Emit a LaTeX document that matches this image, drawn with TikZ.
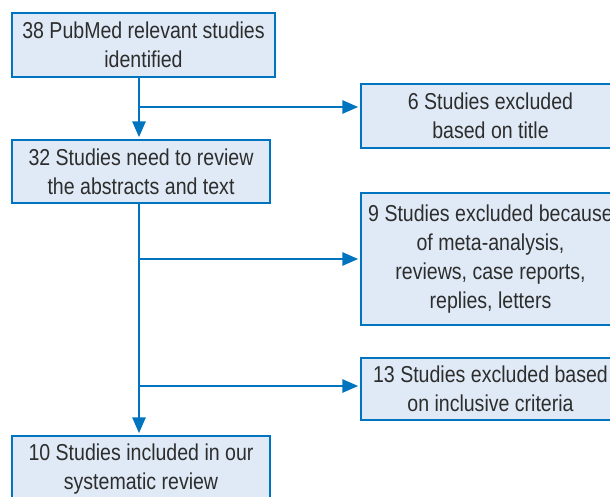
\documentclass[tikz,border=0pt]{standalone}
\usepackage{fontspec}
\setmainfont{Liberation Sans}[FakeStretch=0.85]
\usetikzlibrary{arrows.meta}
\definecolor{edgeblue}{RGB}{0,116,190}
\definecolor{boxfill}{RGB}{223,234,246}
\definecolor{txt}{RGB}{45,45,45}
\tikzset{
  box/.style={draw=edgeblue, line width=2.4pt, fill=boxfill, text=txt,
    inner sep=0pt, align=center, font=\fontsize{23}{29}\selectfont},
  arr/.style={draw=edgeblue, line width=2.8pt,
    -{Triangle[length=16pt,width=13pt]}, shorten >=1.5pt},
  ln/.style={draw=edgeblue, line width=2.8pt}
}
\begin{document}
\begin{tikzpicture}[x=1pt,y=-1pt]
\useasboundingbox (0,0) rectangle (610,497);
\clip (0,0) rectangle (610,497);
\node[box, minimum width=263pt, minimum height=64pt] (b1) at (143.5,45)
  {38 PubMed relevant studies\\identified};
\node[box, minimum width=258pt, minimum height=63pt] (b3) at (141,171.5)
  {32 Studies need to review\\the abstracts and text};
\node[box, minimum width=258pt, minimum height=66pt] (b6) at (141,469)
  {10 Studies included in our\\systematic review};
\node[box, minimum width=259pt, minimum height=64pt] (b2) at (490.5,116)
  {6 Studies excluded\\based on title};
\node[box, minimum width=259pt, minimum height=132pt] (b4) at (490.5,259)
  {9 Studies excluded because\\of meta-analysis,\\reviews, case reports,\\replies, letters};
\node[box, minimum width=259pt, minimum height=62pt] (b5) at (490.5,389)
  {13 Studies excluded based\\on inclusive criteria};
\coordinate (t) at (139,0);
\coordinate (j1) at (139,107);
\coordinate (j2) at (139,259);
\coordinate (j3) at (139,386);
\draw[arr] (b1.south -| t) -- (b3.north -| t);
\draw[ln] (j1) -- ++(1.4,0);
\draw[arr] (j1) -- (j1 -| b2.west);
\draw[arr] (b3.south -| t) -- (b6.north -| t);
\draw[arr] (j2) -- (j2 -| b4.west);
\draw[arr] (j3) -- (j3 -| b5.west);
\end{tikzpicture}
\end{document}
